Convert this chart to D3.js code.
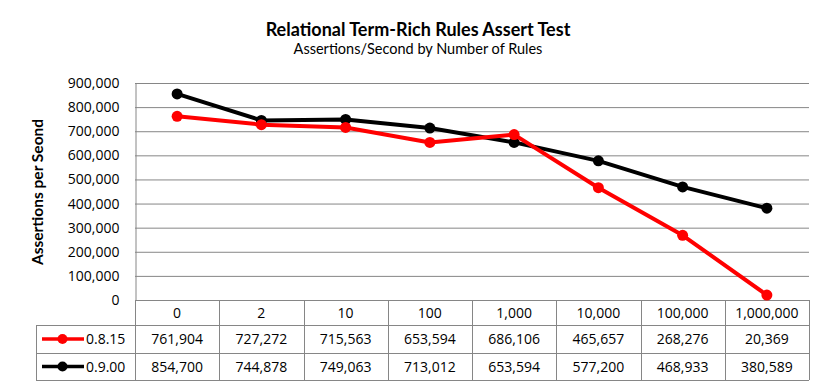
<!DOCTYPE html>
<html><head><meta charset="utf-8">
<script src="https://cdn.jsdelivr.net/npm/d3@7"></script>
<style>body{margin:0;background:#fff}svg{display:block}</style>
</head><body>
<svg id="c" width="833" height="392"></svg>
<script>
const categories = ["0","2","10","100","1,000","10,000","100,000","1,000,000"];
const seriesNames = ["0.8.15","0.9.00"];
const v0815 = [761904,727272,715563,653594,686106,465657,268276,20369];
const v0900 = [854700,744878,749063,713012,653594,577200,468933,380589];
const yTicks = [0,100000,200000,300000,400000,500000,600000,700000,800000,900000];
const colors = ["#ff0000","#000000"];

const svg = d3.select("#c");
const font = "Lato, 'Open Sans', sans-serif";
const nfont = "'Open Sans', sans-serif";
const L = 135, R = 809, T = 83, B = 300;
const x = d3.scaleBand().domain(categories).range([L, R]);
const y = d3.scaleLinear().domain([0, 900000]).range([B, T]);
const fmt = d3.format(",");
const grid = "#868686";

// title
svg.append("text").attr("x", 418).attr("y", 36).attr("text-anchor","middle")
  .attr("font-family", font).attr("font-weight","bold").attr("font-size",18).text("Relational Term-Rich Rules Assert Test");
svg.append("text").attr("x", 418).attr("y", 54).attr("text-anchor","middle")
  .attr("font-family", font).attr("font-size",14.5).text("Assertions/Second by Number of Rules");

// y axis label
svg.append("text").attr("transform","translate(43,192) rotate(-90)").attr("text-anchor","middle")
  .attr("font-family", font).attr("font-weight","bold").attr("font-size",15.5).text("Assertions per Seond");

// gridlines
svg.append("g").selectAll("line").data(yTicks.filter(d=>d>0)).join("line")
  .attr("x1", L).attr("x2", R).attr("y1", d=>y(d)+0.5).attr("y2", d=>y(d)+0.5)
  .attr("stroke", grid).attr("stroke-width",1);

// y axis
const ya = svg.append("g").attr("transform",`translate(${L+0.5},0)`)
  .call(d3.axisLeft(y).tickValues(yTicks).tickFormat(fmt).tickSize(0).tickPadding(16));
ya.select(".domain").attr("stroke", grid);
ya.selectAll("text").attr("font-family", nfont).attr("font-size",14).attr("fill","#000");

// table
const rowsY = [300, 325, 353, 380];
const tg = svg.append("g").attr("stroke", grid).attr("stroke-width",1).attr("fill","none");
tg.append("line").attr("x1",L).attr("x2",R).attr("y1",rowsY[0]+0.5).attr("y2",rowsY[0]+0.5);
[1,2,3].forEach(k => tg.append("line").attr("x1",36).attr("x2",R).attr("y1",rowsY[k]+0.5).attr("y2",rowsY[k]+0.5));
const xs = categories.map(c=>x(c)).concat([R]);
tg.selectAll("line.v").data(xs).join("line").attr("class","v")
  .attr("x1",d=>Math.round(d)+0.5).attr("x2",d=>Math.round(d)+0.5).attr("y1",rowsY[0]).attr("y2",rowsY[3]);
tg.append("line").attr("x1",36.5).attr("x2",36.5).attr("y1",rowsY[1]).attr("y2",rowsY[3]);

// header
svg.append("g").selectAll("text").data(categories).join("text")
  .attr("x", d=>x(d)+x.bandwidth()/2).attr("y", (rowsY[0]+rowsY[1])/2+5)
  .attr("text-anchor","middle").attr("font-family",nfont).attr("font-size",14).text(d=>d);

const allSeries = [v0815, v0900];
allSeries.forEach((vals, i) => {
  const cy = (rowsY[i+1]+rowsY[i+2])/2;
  svg.append("g").selectAll("text").data(vals).join("text")
    .attr("x", (d,j)=>x(categories[j])+x.bandwidth()/2).attr("y", cy+5)
    .attr("text-anchor","middle").attr("font-family",nfont).attr("font-size",14).text(d=>fmt(d));
  svg.append("line").attr("x1",42).attr("x2",84).attr("y1",cy).attr("y2",cy)
    .attr("stroke",colors[i]).attr("stroke-width",3.5);
  svg.append("circle").attr("cx",62.5).attr("cy",cy).attr("r",5).attr("fill",colors[i]);
  svg.append("text").attr("x",86).attr("y",cy+5).attr("font-family",nfont).attr("font-size",14).text(seriesNames[i]);
});

const line = d3.line().x((d,j)=>x(categories[j])+x.bandwidth()/2).y(d=>y(d));
[1,0].forEach(i => {
  const vals = allSeries[i];
  svg.append("path").datum(vals).attr("d", line).attr("fill","none")
    .attr("stroke", colors[i]).attr("stroke-width",4).attr("stroke-linejoin","round");
  svg.append("g").selectAll("circle").data(vals).join("circle")
    .attr("cx",(d,j)=>x(categories[j])+x.bandwidth()/2).attr("cy",d=>y(d)).attr("r",5.5).attr("fill",colors[i]);
});
</script>
</body></html>
